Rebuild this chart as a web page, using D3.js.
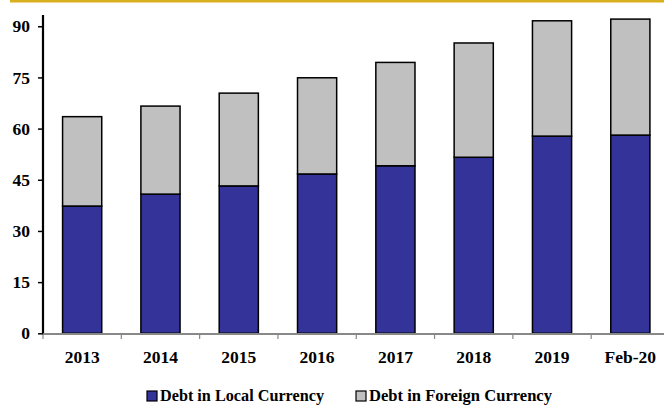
<!DOCTYPE html>
<html>
<head>
<meta charset="utf-8">
<script src="https://cdn.jsdelivr.net/npm/d3@7"></script>
<style>
  html, body { margin: 0; padding: 0; background: #fff; }
  svg { display: block; }
  text { font-family: "Liberation Serif", "Times New Roman", serif; font-weight: bold; fill: #000; }
</style>
</head>
<body>
<svg id="chart" width="664" height="405"></svg>
<script>
// Public debt by currency of denomination
const categories = ["2013", "2014", "2015", "2016", "2017", "2018", "2019", "Feb-20"];
const localCurrency = [37.3, 40.8, 43.2, 46.7, 49.1, 51.6, 57.8, 58.1];
const foreignCurrency = [26.2, 25.8, 27.2, 28.2, 30.3, 33.5, 33.8, 34.0];
const yTicks = [0, 15, 30, 45, 60, 75, 90];
const seriesNames = ["Debt in Local Currency", "Debt in Foreign Currency"];
const seriesColors = ["#333399", "#c0c0c0"];

const svg = d3.select("#chart");
const W = 664;

// gold rule across the top
svg.append("rect").attr("x", 10).attr("y", 0).attr("width", W - 10).attr("height", 2.5)
  .attr("fill", "#d9ae1f");

const x = d3.scaleBand().domain(categories).range([43, 669.5]).paddingInner(0.5).paddingOuter(0.25);
const y = d3.scaleLinear().domain([0, 93.3]).range([333.3, 15]);

const rows = categories.map((c, i) => ({ cat: c, local: localCurrency[i], foreign: foreignCurrency[i] }));
const stacked = d3.stack().keys(["local", "foreign"])(rows);

const g = svg.append("g");
stacked.forEach((layer, li) => {
  g.selectAll(null).data(layer).enter().append("rect")
    .attr("x", d => x(d.data.cat))
    .attr("y", d => y(d[1]))
    .attr("width", x.bandwidth())
    .attr("height", d => y(d[0]) - y(d[1]))
    .attr("fill", seriesColors[li])
    .attr("stroke", "#000")
    .attr("stroke-width", 1.5);
});

// x axis: grey baseline with ticks at the category boundaries
const gap = (x.step() - x.bandwidth()) / 2;
const xAxis = svg.append("g");
xAxis.append("line").attr("x1", 43).attr("x2", W).attr("y1", 334).attr("y2", 334)
  .attr("stroke", "#888").attr("stroke-width", 2);
xAxis.selectAll("line.tk").data(categories).enter().append("line")
  .attr("class", "tk")
  .attr("x1", d => x(d) - gap)
  .attr("x2", d => x(d) - gap)
  .attr("y1", 334).attr("y2", 339)
  .attr("stroke", "#888").attr("stroke-width", 1.2);
xAxis.selectAll("text").data(categories).enter().append("text")
  .attr("x", d => x(d) + x.bandwidth() / 2)
  .attr("y", 363)
  .attr("text-anchor", "middle")
  .attr("font-size", 17.5)
  .text(d => d);

// y axis
const yAxis = svg.append("g").attr("transform", "translate(43,0)")
  .call(d3.axisLeft(y).tickValues(yTicks).tickSize(5).tickPadding(8).tickFormat(d3.format("d")));
yAxis.select(".domain").attr("d", `M0,${y(0)}V15`).attr("stroke", "#000").attr("stroke-width", 2.2);
yAxis.selectAll(".tick line").attr("stroke", "#000").attr("stroke-width", 1.5);
yAxis.selectAll(".tick text")
  .attr("font-size", 17.5)
  .attr("font-family", "Liberation Serif, Times New Roman, serif")
  .attr("font-weight", "bold")
  .attr("fill", "#000");

// legend along the bottom edge
const legendX = [147, 356];
const legendW = [164, 183];
const legend = svg.append("g");
seriesNames.forEach((name, i) => {
  legend.append("rect").attr("x", legendX[i]).attr("y", 391).attr("width", 10).attr("height", 10)
    .attr("fill", seriesColors[i]).attr("stroke", "#000").attr("stroke-width", 1.2);
  legend.append("text").attr("x", legendX[i] + 13).attr("y", 401)
    .attr("font-size", 17.5)
    .attr("textLength", legendW[i])
    .attr("lengthAdjust", "spacingAndGlyphs")
    .text(name);
});
</script>
</body>
</html>
